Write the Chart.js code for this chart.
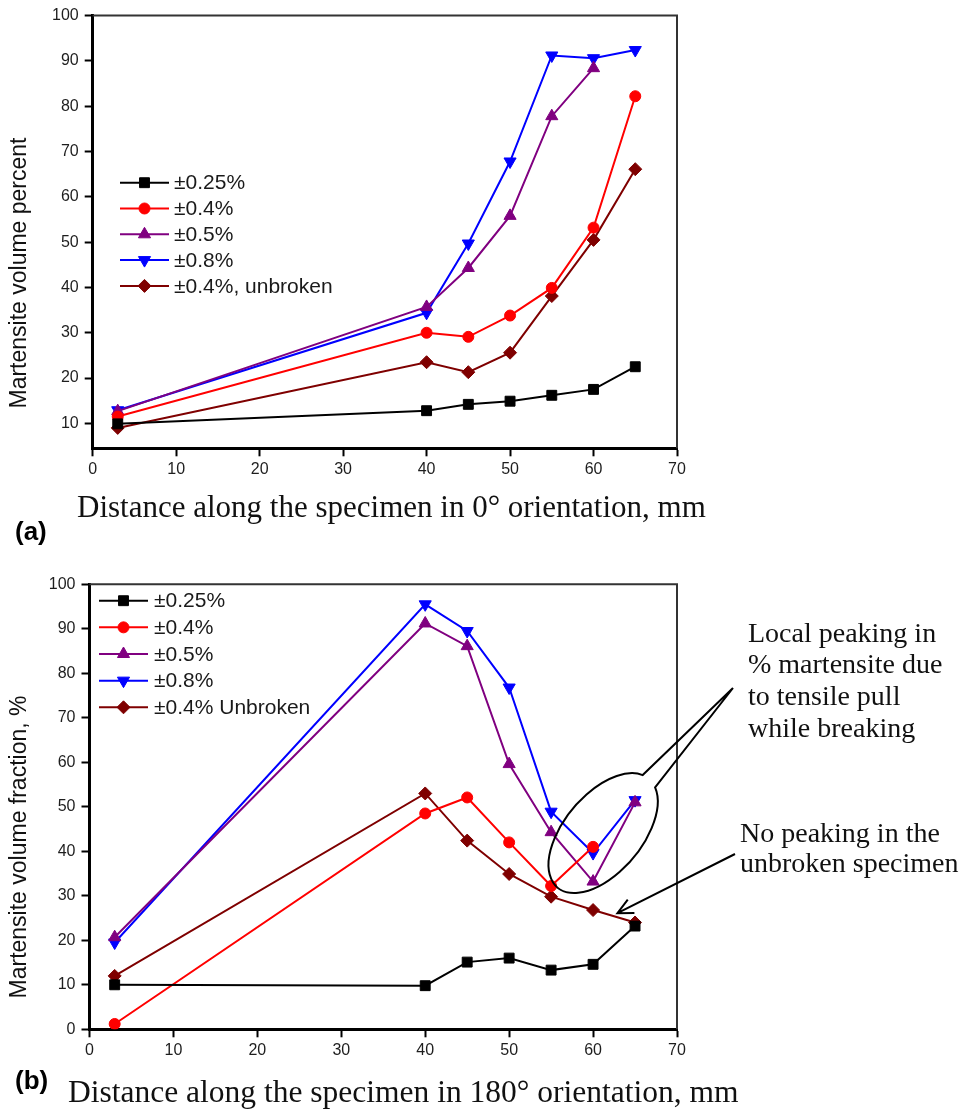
<!DOCTYPE html>
<html>
<head>
<meta charset="utf-8">
<script src="https://cdn.jsdelivr.net/npm/chart.js@4.4.1/dist/chart.umd.min.js"></script>
<style>
  html, body { margin: 0; padding: 0; background: #fff; }
  .panel { position: absolute; left: 0; width: 964px; }
  #panel-a { top: 0; height: 550px; }
  #panel-b { top: 550px; height: 560px; }
</style>
</head>
<body>
<div class="panel" id="panel-a"><canvas id="chart-a" width="964" height="550"></canvas></div>
<div class="panel" id="panel-b"><canvas id="chart-b" width="964" height="560"></canvas></div>
<script>
// Measurement positions along the specimen, mm
const distances = [3, 40, 45, 50, 55, 60, 65];
const xTicks = [0, 10, 20, 30, 40, 50, 60, 70];

// (a) 0° orientation — martensite volume percent
const yRangeA = [4.5, 100];
const yTicksA = [10, 20, 30, 40, 50, 60, 70, 80, 90, 100];
const a_025 = [9.9, 12.8, 14.2, 14.9, 16.2, 17.5, 22.5];
const a_04 = [11.5, 30.0, 29.1, 33.8, 39.9, 53.2, 82.2];
const a_05 = [12.7, 35.7, 44.3, 55.8, 77.8, 88.4];
const a_08 = [12.9, 34.4, 49.7, 67.8, 91.2, 90.6, 92.4];
const a_04u = [9.0, 23.5, 21.3, 25.6, 38.1, 50.5, 66.1];
const namesA = ['±0.25%', '±0.4%', '±0.5%', '±0.8%', '±0.4%, unbroken'];

// (b) 180° orientation — martensite volume fraction, %
const yRangeB = [0, 100];
const yTicksB = [0, 10, 20, 30, 40, 50, 60, 70, 80, 90, 100];
const b_025 = [10.0, 9.8, 15.1, 16.0, 13.3, 14.6, 23.2];
const b_04 = [1.2, 48.5, 52.1, 42.0, 32.2, 41.0];
const b_05 = [20.7, 91.2, 86.1, 59.6, 44.3, 33.2, 51.0];
const b_08 = [19.5, 95.5, 89.5, 76.8, 48.9, 39.6, 51.5];
const b_04u = [12.0, 53.0, 42.4, 34.9, 29.8, 26.8, 24.0];
const namesB = ['±0.25%', '±0.4%', '±0.5%', '±0.8%', '±0.4% Unbroken'];

// callout anchors in data units (ellipse centre, arrow tip)
const ellipseAt = [61.2, 44.1];
const arrowTipAt = [62.9, 26.1];

const SANS = '"Liberation Sans", Arial, sans-serif';
const SERIF = '"Liberation Serif", "Times New Roman", serif';

const styles = [
  { color: '#000000', pointStyle: 'rect', radius: 7, rotation: 0 },
  { color: '#ff0000', pointStyle: 'circle', radius: 5.5, rotation: 0 },
  { color: '#800080', pointStyle: 'triangle', radius: 7, rotation: 0 },
  { color: '#0000ff', pointStyle: 'triangle', radius: 7, rotation: 180 },
  { color: '#7f0000', pointStyle: 'rectRot', radius: 6.5, rotation: 0 }
];

function series (values, i, names) {
  const s = styles[i];
  return {
    label: names[i],
    data: values.map((v, k) => ({ x: distances[k], y: v })),
    borderColor: s.color,
    backgroundColor: s.color,
    borderWidth: 2,
    pointStyle: s.pointStyle,
    pointRadius: s.radius,
    pointRotation: s.rotation,
    pointBorderWidth: 1,
    tension: 0
  };
}

function axes (yRange, yTicks, yWidth) {
  const tickFont = { family: SANS, size: 16 };
  return {
    x: {
      type: 'linear', min: 0, max: 70,
      afterBuildTicks: s => { s.ticks = xTicks.map(v => ({ value: v })); },
      afterFit: s => { s.height = 40; },
      grid: { drawOnChartArea: false, drawTicks: true, tickLength: 8, tickWidth: 2, color: '#000' },
      border: { display: true, width: 3, color: '#000' },
      ticks: { padding: 4, color: '#1e1e1e', font: tickFont, callback: v => String(v), maxRotation: 0 }
    },
    y: {
      type: 'linear', min: yRange[0], max: yRange[1],
      afterBuildTicks: s => { s.ticks = yTicks.map(v => ({ value: v })); },
      afterFit: s => { s.width = yWidth; },
      grid: { drawOnChartArea: false, drawTicks: true, tickLength: 8, tickWidth: 2, color: '#000' },
      border: { display: true, width: 3, color: '#000' },
      ticks: { padding: 6, color: '#1e1e1e', font: tickFont, callback: v => String(v) }
    }
  };
}

// thin top/right edges of the plot box
const framePlugin = {
  id: 'frame',
  beforeDatasetsDraw (chart) {
    const { ctx, chartArea: a } = chart;
    ctx.save();
    ctx.strokeStyle = '#333';
    ctx.lineWidth = 2;
    ctx.beginPath();
    ctx.moveTo(a.left, a.top);
    ctx.lineTo(a.right, a.top);
    ctx.lineTo(a.right, a.bottom);
    ctx.stroke();
    ctx.restore();
  }
};

// legend drawn inside the plot area
const insetLegend = {
  id: 'insetLegend',
  afterDatasetsDraw (chart, args, opts) {
    const { ctx } = chart;
    chart.data.datasets.forEach((ds, i) => {
      const y = opts.top + i * opts.rowHeight;
      const mid = opts.left + opts.lineWidth / 2;
      ctx.save();
      ctx.strokeStyle = ds.borderColor;
      ctx.lineWidth = 2;
      ctx.beginPath();
      ctx.moveTo(opts.left, y);
      ctx.lineTo(opts.left + opts.lineWidth, y);
      ctx.stroke();
      ctx.fillStyle = ds.borderColor;
      ctx.lineWidth = 1;
      Chart.helpers.drawPoint(ctx, {
        pointStyle: ds.pointStyle, radius: ds.pointRadius,
        rotation: ds.pointRotation, borderWidth: 1
      }, mid, y);
      ctx.fillStyle = '#1a1a1a';
      ctx.font = '21px ' + SANS;
      ctx.textAlign = 'left';
      ctx.textBaseline = 'middle';
      ctx.fillText(ds.label, opts.textX, y + 1);
      ctx.restore();
    });
  }
};

// axis titles and panel letters
const figText = {
  id: 'figText',
  afterDraw (chart, args, opts) {
    const { ctx } = chart;
    (opts.items || []).forEach(t => {
      ctx.save();
      ctx.font = t.font;
      ctx.fillStyle = t.color || '#111';
      ctx.textAlign = t.align || 'left';
      ctx.textBaseline = t.baseline || 'alphabetic';
      ctx.translate(t.x, t.y);
      if (t.rotate) ctx.rotate(t.rotate * Math.PI / 180);
      ctx.fillText(t.text, 0, 0);
      ctx.restore();
    });
  }
};

// ellipse callout and arrow for panel (b)
const callouts = {
  id: 'callouts',
  afterDraw (chart, args, opts) {
    if (!opts.enabled) return;
    const { ctx, scales: { x, y } } = chart;
    const cx = x.getPixelForValue(ellipseAt[0]);
    const cy = y.getPixelForValue(ellipseAt[1]);
    const rx = 71, ry = 39, rot = -50 * Math.PI / 180;
    const t0 = -0.18, t1 = 0.27;
    const onEllipse = t => [
      cx + rx * Math.cos(t) * Math.cos(rot) - ry * Math.sin(t) * Math.sin(rot),
      cy + rx * Math.cos(t) * Math.sin(rot) + ry * Math.sin(t) * Math.cos(rot)
    ];
    const tip = [733, 138];

    ctx.save();
    ctx.strokeStyle = '#000';
    ctx.lineWidth = 2;
    ctx.beginPath();
    ctx.moveTo(tip[0], tip[1]);
    ctx.lineTo(...onEllipse(t1));
    ctx.ellipse(cx, cy, rx, ry, rot, t1, t0 + 2 * Math.PI, false);
    ctx.lineTo(tip[0], tip[1]);
    ctx.stroke();

    // arrow to the unbroken curve
    const from = [735, 304];
    const to = [x.getPixelForValue(arrowTipAt[0]), y.getPixelForValue(arrowTipAt[1])];
    const ang = Math.atan2(to[1] - from[1], to[0] - from[0]);
    const head = 17, spread = 0.45;
    ctx.beginPath();
    ctx.moveTo(from[0], from[1]);
    ctx.lineTo(to[0], to[1]);
    ctx.moveTo(to[0] - head * Math.cos(ang - spread), to[1] - head * Math.sin(ang - spread));
    ctx.lineTo(to[0], to[1]);
    ctx.lineTo(to[0] - head * Math.cos(ang + spread), to[1] - head * Math.sin(ang + spread));
    ctx.stroke();
    ctx.restore();
  }
};

function makeChart (id, sets, names, yRange, yTicks, area, legendOpts, texts, withCallouts) {
  const canvas = document.getElementById(id);
  return new Chart(canvas, {
    type: 'line',
    data: { datasets: sets.map((v, i) => series(v, i, names)) },
    options: {
      responsive: false,
      animation: false,
      events: [],
      layout: {
        padding: {
          left: 0,
          top: area.top,
          right: canvas.width - area.right,
          bottom: canvas.height - area.bottom - 40
        }
      },
      scales: axes(yRange, yTicks, area.left),
      plugins: {
        legend: { display: false },
        tooltip: { enabled: false },
        insetLegend: legendOpts,
        figText: { items: texts },
        callouts: { enabled: withCallouts }
      }
    },
    plugins: [framePlugin, insetLegend, figText, callouts]
  });
}

makeChart('chart-a', [a_025, a_04, a_05, a_08, a_04u], namesA, yRangeA, yTicksA,
  { left: 92.7, right: 677, top: 15, bottom: 448.3 },
  { left: 120, top: 182.7, rowHeight: 25.8, lineWidth: 49, textX: 174 },
  [
    { text: 'Martensite volume percent', x: 20, y: 273, rotate: -90, align: 'center', baseline: 'middle', font: '23px ' + SANS },
    { text: 'Distance along the specimen in 0° orientation, mm', x: 77, y: 516.7, font: '31px ' + SERIF },
    { text: '(a)', x: 15, y: 539.5, font: 'bold 26px ' + SANS, color: '#000' }
  ], false);

makeChart('chart-b', [b_025, b_04, b_05, b_08, b_04u], namesB, yRangeB, yTicksB,
  { left: 89.5, right: 677, top: 34.3, bottom: 479.3 },
  { left: 99, top: 50.7, rowHeight: 26.65, lineWidth: 49, textX: 154 },
  [
    { text: 'Martensite volume fraction, %', x: 20, y: 297, rotate: -90, align: 'center', baseline: 'middle', font: '23px ' + SANS },
    { text: 'Distance along the specimen in 180° orientation, mm', x: 68, y: 551.7, font: '31.5px ' + SERIF },
    { text: '(b)', x: 15, y: 539, font: 'bold 26px ' + SANS, color: '#000' },
    { text: 'Local peaking in', x: 748, y: 91.7, font: '28px ' + SERIF },
    { text: '% martensite due', x: 748, y: 123.4, font: '28px ' + SERIF },
    { text: 'to tensile pull', x: 748, y: 155, font: '28px ' + SERIF },
    { text: 'while breaking', x: 748, y: 186.7, font: '28px ' + SERIF },
    { text: 'No peaking in the', x: 740, y: 291.7, font: '28px ' + SERIF },
    { text: 'unbroken specimen', x: 740, y: 321.7, font: '28px ' + SERIF }
  ], true);
</script>
</body>
</html>
